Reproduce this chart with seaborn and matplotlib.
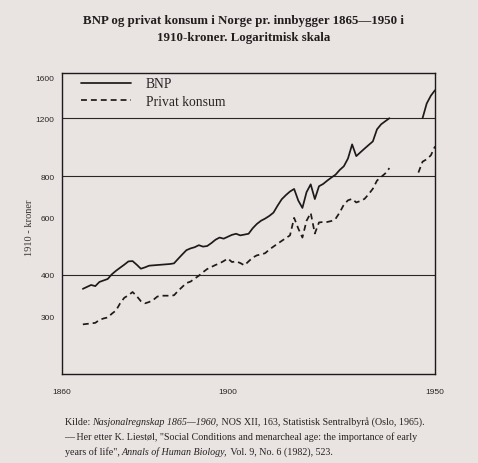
import pandas as pd
import matplotlib
matplotlib.use('Agg')
import matplotlib.pyplot as plt
from matplotlib.lines import Line2D
from matplotlib.ticker import FixedLocator, FixedFormatter, NullLocator
import seaborn as sns

# BNP per innbygger (1910-kroner)
bnp_years_1 = list(range(1865, 1940))
bnp_values_1 = [363, 368, 373, 370, 381, 385, 389, 402, 412, 421,
                430, 440, 441, 430, 418, 422, 427, 428, 429, 430,
                431, 432, 434, 448, 462, 476, 482, 486, 493, 488,
                490, 500, 512, 520, 516, 523, 530, 534, 528, 531,
                534, 555, 572, 585, 594, 605, 619, 650, 680, 700,
                718, 731, 674, 640, 715, 755, 681, 745, 757, 775,
                792, 808, 835, 857, 905, 999, 920, 945, 970, 995,
                1020, 1110, 1150, 1175, 1200]
bnp_years_2 = [1947, 1948, 1949, 1950]
bnp_values_2 = [1200, 1330, 1405, 1460]

# Privat konsum per innbygger
pk_years_1 = list(range(1865, 1940))
pk_values_1 = [283, 284, 285, 286, 292, 295, 297, 305, 312, 328,
               341, 347, 355, 345, 333, 328, 331, 336, 344, 346,
               346, 346, 347, 358, 368, 378, 382, 390, 398, 408,
               417, 423, 429, 434, 441, 449, 438, 440, 435, 428,
               440, 452, 459, 462, 466, 478, 488, 498, 508, 518,
               528, 597, 554, 520, 585, 618, 535, 578, 580, 580,
               584, 593, 620, 655, 675, 682, 665, 672, 682, 705,
               732, 775, 795, 815, 846]
pk_years_2 = [1946, 1947, 1948, 1949, 1950]
pk_values_2 = [820, 885, 900, 925, 985]

y_ticks = [300, 400, 600, 800, 1200, 1600]
grid_levels = [400, 800, 1200]
x_ticks = list(range(1860, 1951, 10))
x_labels = ['1860', '', '', '', '1900', '', '', '', '', '1950']

paper = '#e9e3e2'
ink = '#1c1a1a'
serif = ['Liberation Serif', 'DejaVu Serif']
dash = (0, (3.4, 2.3))

sns.set_style('white')
plt.rcParams['font.family'] = serif

fig = plt.figure(figsize=(4.78, 4.64), dpi=100, facecolor=paper)
ax = fig.add_axes([0.130, 0.192, 0.780, 0.649], facecolor=paper)

segments = [
    (bnp_years_1, bnp_values_1, '-'),
    (bnp_years_2, bnp_values_2, '-'),
    (pk_years_1, pk_values_1, dash),
    (pk_years_2, pk_values_2, dash),
]
for yrs, vals, ls in segments:
    seg = pd.DataFrame({'year': yrs, 'value': vals})
    sns.lineplot(data=seg, x='year', y='value', ax=ax, color=ink,
                 linewidth=1.25, linestyle=ls, legend=False)

for lvl in grid_levels:
    ax.axhline(lvl, color='#2a2626', linewidth=0.8, zorder=1)

ax.set_yscale('log')
ax.set_ylim(200, 1650)
ax.set_xlim(1860, 1950)
ax.yaxis.set_major_locator(FixedLocator(y_ticks))
ax.yaxis.set_major_formatter(FixedFormatter([str(v) for v in y_ticks]))
ax.yaxis.set_minor_locator(NullLocator())
ax.set_xticks(x_ticks)
ax.set_xticklabels(x_labels)
ax.tick_params(axis='both', direction='out', length=3, width=0.8,
               color=ink, labelsize=6, labelcolor='#2a2626')
ax.tick_params(axis='y', pad=2.5)
ax.tick_params(axis='x', pad=7)
for lab in ax.get_xticklabels() + ax.get_yticklabels():
    lab.set_family(['Liberation Sans', 'DejaVu Sans'])

for sp in ax.spines.values():
    sp.set_color(ink)
    sp.set_linewidth(1.0)

ax.set_xlabel('')
ax.set_ylabel('1910 - kroner', fontsize=7.5, color='#3a3434')
ax.yaxis.set_label_coords(-0.075, 0.49)

handles = [Line2D([], [], color=ink, linewidth=1.25, linestyle='-'),
           Line2D([], [], color=ink, linewidth=1.25, linestyle=dash)]
ax.legend(handles, ['BNP', 'Privat konsum'], loc='upper left',
          bbox_to_anchor=(0.05, 0.985), frameon=False, fontsize=9.8,
          handlelength=3.7, handletextpad=1.1, labelspacing=0.35,
          borderpad=0, borderaxespad=0, labelcolor='#2a2626')

fig.text(0.51, 0.955, 'BNP og privat konsum i Norge pr. innbygger 1865—1950 i',
         ha='center', va='center', fontsize=9.3, fontweight='bold', color='#221e1e')
fig.text(0.51, 0.918, '1910-kroner. Logaritmisk skala',
         ha='center', va='center', fontsize=9.3, fontweight='bold', color='#221e1e')

# caption with italic pieces, laid out piece by piece
renderer = fig.canvas.get_renderer()


def caption_line(y, parts):
    x = 0.135
    for txt, style in parts:
        t = fig.text(x, y, txt, ha='left', va='center', fontsize=7.2,
                     style=style, color='#262222')
        x += t.get_window_extent(renderer).width / fig.bbox.width


caption_line(0.090, [('Kilde: ', 'normal'),
                     ('Nasjonalregnskap 1865—1960,', 'italic'),
                     (' NOS XII, 163, Statistisk Sentralbyrå (Oslo, 1965).', 'normal')])
caption_line(0.058, [('— Her etter K. Liestøl, "Social Conditions and menarcheal age: '
                      'the importance of early', 'normal')])
caption_line(0.026, [('years of life", ', 'normal'),
                     ('Annals of Human Biology,', 'italic'),
                     (' Vol. 9, No. 6 (1982), 523.', 'normal')])

fig.savefig('out.png', dpi=100, facecolor=paper)
